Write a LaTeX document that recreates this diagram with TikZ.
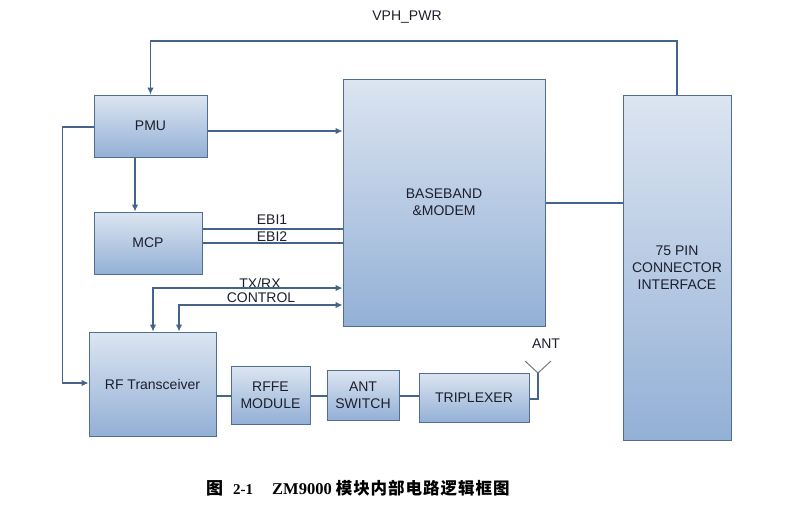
\documentclass[tikz,border=0pt]{standalone}
\usepackage{fontspec}
\setmainfont{Liberation Sans}
\newfontfamily\capserif{Liberation Serif}
\newfontfamily\cjk{Noto Sans CJK SC}
\usetikzlibrary{arrows.meta}
\definecolor{boxtop}{HTML}{DCE5F1}
\definecolor{boxbot}{HTML}{93B0D6}
\definecolor{boxline}{HTML}{4F6E92}
\definecolor{wire}{HTML}{44648A}
\definecolor{txt}{HTML}{1E1E2C}
\tikzset{
  blk/.style={draw=boxline, line width=1pt, top color=boxtop, bottom color=boxbot,
    inner sep=0pt, align=center, text=txt, font=\fontsize{14}{17}\selectfont},
  wireline/.style={draw=wire, line width=1.1pt},
  arr/.style={wireline, -{Latex[length=7pt,width=6.5pt]}},
  arrboth/.style={wireline, {Latex[length=7pt,width=6.5pt]}-{Latex[length=7pt,width=6.5pt]}},
  lbl/.style={inner sep=0pt, text=txt, font=\fontsize{14}{17}\selectfont},
}
\begin{document}
\begin{tikzpicture}[x=1pt, y=-1pt]
\useasboundingbox (0,0) rectangle (808,512);
% blocks
\node[blk, minimum width=113pt, minimum height=62pt] (PMU) at (150.5,126) {PMU};
\node[blk, minimum width=202pt, minimum height=247pt] (BB) at (444,202.5) {BASEBAND\\\&MODEM};
\node[blk, minimum width=108pt, minimum height=62pt] (MCP) at (148,243) {MCP};
\node[blk, minimum width=108pt, minimum height=345pt] (CONN) at (677,267.5) {75 PIN\\CONNECTOR\\INTERFACE};
\node[blk, minimum width=127pt, minimum height=104pt] (RF) at (152.5,384) {RF Transceiver};
\node[blk, minimum width=79pt, minimum height=58pt] (RFFE) at (270.5,395) {RFFE\\MODULE};
\node[blk, minimum width=72pt, minimum height=50pt] (ANTSW) at (363,395) {ANT\\SWITCH};
\node[blk, minimum width=110pt, minimum height=49pt] (TRIP) at (474,397.5) {TRIPLEXER};
% labels
\node[lbl] (vph) at (407,17) {VPH\_PWR};
\node[lbl] (ebi1) at (272,220) {EBI1};
\node[lbl] (ebi2) at (272,237) {EBI2};
\node[lbl] (txrx) at (260,283) {TX/RX};
\node[lbl] (ctrl) at (261,298) {CONTROL};
\node[lbl] (ant) at (546,344) {ANT};
% connectors
\draw[arr] (CONN.north) -- (CONN.north |- 0,41) -| (PMU.north);
\draw[arr] (PMU.east |- 0,131) -- (BB.west |- 0,131);
\draw[arr] (PMU.south -| 135,0) -- (MCP.north -| 135,0);
\draw[wireline] (MCP.east |- 0,229) -- (BB.west |- 0,229);
\draw[wireline] (MCP.east |- 0,243) -- (BB.west |- 0,243);
\draw[arrboth] (RF.north -| 153,0) |- (BB.west |- 0,288);
\draw[arrboth] (RF.north -| 179,0) |- (BB.west |- 0,305);
\draw[arr] (PMU.west |- 0,127) -- ++(-31,0) |- (RF.west |- 0,383);
\draw[wireline] (BB.east |- 0,203) -- (CONN.west |- 0,203);
\draw[wireline] (RF.east |- 0,396) -- (RFFE.west |- 0,396);
\draw[wireline] (RFFE.east |- 0,396) -- (ANTSW.west |- 0,396);
\draw[wireline] (ANTSW.east |- 0,396) -- (TRIP.west |- 0,396);
\coordinate (antbase) at (538,373);
\coordinate (antl) at (525,361);
\coordinate (antr) at (551,361);
\draw[wireline] (TRIP.east |- 0,399) -| (antbase);
\draw[draw=gray!80!wire, line width=1pt] (antl) -- (antbase) -- (antr);
% caption
\node[inner sep=0pt, anchor=west, font=\bfseries] (cap) at (206,488)
  {{\cjk\fontsize{17}{20}\selectfont 图}\hspace{10pt}{\capserif\fontsize{15}{18}\selectfont 2-1}\hspace{19pt}{\capserif\fontsize{16.5}{18}\selectfont ZM9000}\hspace{4pt}{\cjk\fontsize{16.5}{20}\selectfont\addfontfeature{LetterSpace=6}模块内部电路逻辑框图}};
\end{tikzpicture}
\end{document}
